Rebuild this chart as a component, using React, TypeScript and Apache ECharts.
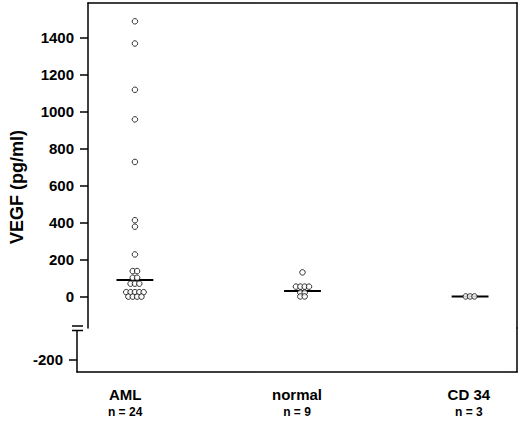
import React, { useEffect, useRef } from "react";
import * as echarts from "echarts";

const categories = ["AML", "normal", "CD 34"];
const groupSizes = [24, 9, 3];
const amlValues = [1490, 1370, 1120, 960, 730, 415, 380, 230, 140, 140, 104, 104, 72, 72, 72, 26, 26, 26, 26, 26, 2, 2, 2, 2];
const normalValues = [133, 56, 56, 56, 56, 24, 24, 3, 3];
const cd34Values = [3, 3, 3];
const medians = [92, 32, 3];
const upperTicks = [0, 200, 400, 600, 800, 1000, 1200, 1400];
const lowerTicks = [-200];

const FONT = "'Liberation Sans', Arial, Helvetica, sans-serif";

function swarm(values: number[], center: number, step: number): number[][] {
  const groups = new Map<number, number>();
  values.forEach((v) => groups.set(v, (groups.get(v) || 0) + 1));
  const out: number[][] = [];
  groups.forEach((k, v) => {
    for (let j = 0; j < k; j++) out.push([center + (j - (k - 1) / 2) * step, v]);
  });
  return out;
}

export default function App() {
  const ref = useRef<HTMLDivElement>(null);
  useEffect(() => {
    if (!ref.current) return;
    const chart = echarts.init(ref.current, null, { renderer: "svg" });
    const step = 0.026;
    const half = 0.11;
    const groups = [amlValues, normalValues, cd34Values];
    const xMin = -0.28;
    const xMax = 2.28;
    const lineStyle = { color: "#000", width: 1.5 };
    const tickLabel = {
      margin: 14,
      fontFamily: FONT,
      fontSize: 15,
      fontWeight: "bold",
      color: "#000",
      formatter: (v: number) => String(v),
    };
    const scatterSeries = groups.map((vals, i) => ({
      type: "scatter",
      xAxisIndex: 0,
      yAxisIndex: 0,
      data: swarm(vals, i, step),
      symbol: "circle",
      symbolSize: 5.5,
      itemStyle: { color: "#fff", borderColor: "#000", borderWidth: 1 },
      z: 5,
      silent: true,
    }));
    const medianSeries = medians.map((m, i) => ({
      type: "line",
      xAxisIndex: 0,
      yAxisIndex: 0,
      data: [
        [i - half, m],
        [i + half, m],
      ],
      symbol: "none",
      lineStyle: { color: "#000", width: 2 },
      z: 3,
      silent: true,
    }));
    chart.setOption({
      animation: false,
      backgroundColor: "#fff",
      grid: [
        { left: 77, right: 3, top: 3, height: 325 },
        { left: 77, right: 3, top: 328, height: 44 },
      ],
      xAxis: [
        {
          type: "value",
          gridIndex: 0,
          position: "top",
          min: xMin,
          max: xMax,
          axisLine: { show: true, onZero: false, lineStyle },
          axisTick: { show: false },
          axisLabel: { show: false },
          splitLine: { show: false },
        },
        {
          type: "value",
          gridIndex: 1,
          position: "bottom",
          min: xMin,
          max: xMax,
          axisLine: { show: true, onZero: false, lineStyle },
          axisTick: { show: false },
          splitLine: { show: false },
          axisLabel: {
            customValues: [0, 1, 2],
            margin: 13,
            formatter: (v: number) => {
              const i = Math.round(v);
              return `{a|${categories[i]}}\n{b|n = ${groupSizes[i]}}`;
            },
            rich: {
              a: { fontFamily: FONT, fontSize: 15, fontWeight: "bold", color: "#000", lineHeight: 18 },
              b: { fontFamily: FONT, fontSize: 12, fontWeight: "bold", color: "#000", lineHeight: 18 },
            },
          },
        },
      ],
      yAxis: [
        {
          type: "value",
          gridIndex: 0,
          position: "left",
          min: -167.6,
          max: 1589,
          name: "VEGF (pg/ml)",
          nameLocation: "middle",
          nameGap: 62,
          nameTextStyle: {
            fontFamily: FONT,
            fontSize: 18,
            fontWeight: "bold",
            color: "#000",
            padding: [0, 43, 0, 0],
          },
          axisLine: { show: true, onZero: false, lineStyle },
          axisTick: { show: true, length: 8, lineStyle, customValues: upperTicks },
          axisLabel: { ...tickLabel, customValues: upperTicks },
          splitLine: { show: false },
        },
        {
          type: "value",
          gridIndex: 1,
          position: "left",
          min: -265,
          max: -27,
          axisLine: { show: true, onZero: false, lineStyle },
          axisTick: { show: true, length: 8, lineStyle, customValues: lowerTicks },
          axisLabel: { ...tickLabel, customValues: lowerTicks },
          splitLine: { show: false },
        },
        {
          type: "value",
          gridIndex: 0,
          position: "right",
          min: -167.6,
          max: 1589,
          axisLine: { show: true, onZero: false, lineStyle },
          axisTick: { show: false },
          axisLabel: { show: false },
          splitLine: { show: false },
        },
        {
          type: "value",
          gridIndex: 1,
          position: "right",
          min: -265,
          max: -27,
          axisLine: { show: true, onZero: false, lineStyle },
          axisTick: { show: false },
          axisLabel: { show: false },
          splitLine: { show: false },
        },
      ],
      graphic: [
        { type: "rect", shape: { x: 73, y: 326.5, width: 8, height: 3.5 }, style: { fill: "#fff" }, z: 100 },
        { type: "line", shape: { x1: 72, y1: 326, x2: 83, y2: 326 }, style: { stroke: "#000", lineWidth: 1.5 }, z: 101 },
        { type: "line", shape: { x1: 72, y1: 330.5, x2: 83, y2: 330.5 }, style: { stroke: "#000", lineWidth: 1.5 }, z: 101 },
      ],
      series: [...medianSeries, ...scatterSeries],
    });
    return () => chart.dispose();
  }, []);
  return (
    <div
      ref={ref}
      style={{ position: "absolute", left: 0, top: 0, width: 520, height: 421, background: "#fff" }}
    />
  );
}
